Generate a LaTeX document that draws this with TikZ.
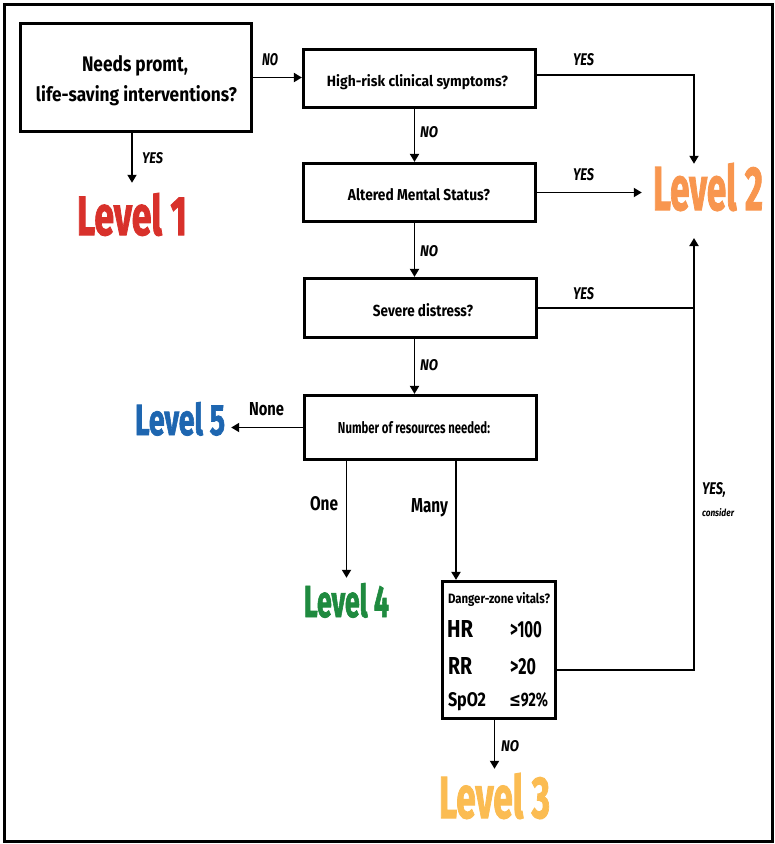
\documentclass[tikz,border=0pt]{standalone}
\usepackage{fontspec}
\setmainfont{Fira Sans}
\newfontfamily\symfont{DejaVu Sans}
\newfontfamily\heavy{Fira Sans}[BoldFeatures={FakeBold=2}]
\usetikzlibrary{arrows.meta,calc}
\newcommand\fitt[3]{\resizebox{#1pt}{#2pt}{#3}}
\definecolor{lvone}{HTML}{D8312B}
\definecolor{lvtwo}{HTML}{F8964F}
\definecolor{lvthree}{HTML}{FBBC52}
\definecolor{lvfour}{HTML}{1F8A3F}
\definecolor{lvfive}{HTML}{1E66B0}
\begin{document}
\begin{tikzpicture}[x=1pt,y=-1pt,
  box/.style={draw, line width=3.2pt, inner sep=0pt},
  lbl/.style={inner sep=0pt, anchor=base, font=\bfseries},
  ilbl/.style={inner sep=0pt, anchor=base, font=\bfseries\itshape},
  lvl/.style={inner sep=0pt, anchor=base, font=\heavy\bfseries},
  conn/.style={line width=1.8pt, -{Triangle[length=8pt,width=9pt]}},
  plain/.style={line width=1.8pt}]
\useasboundingbox (0,0) rectangle (775,844);
\draw[line width=3pt] (4,4) rectangle (772,841);

% boxes
\node[box, minimum width=231pt, minimum height=108pt] (b1) at (136,77.5) {};
\node[box, minimum width=232pt, minimum height=58pt] (b2) at (419.5,78.5) {};
\node[box, minimum width=232pt, minimum height=58pt] (b3) at (419.5,192.5) {};
\node[box, minimum width=232pt, minimum height=59pt] (b4) at (420.5,308) {};
\node[box, minimum width=232pt, minimum height=64pt] (b5) at (420.5,427.5) {};
\node[box, minimum width=113pt, minimum height=137pt] (b6) at (499,650) {};

% box texts
\node[lbl] (t1a) at (135,71) {\fitt{106}{16}{Needs promt,}};
\node[lbl] (t1b) at (136.5,101) {\fitt{201}{16}{life-saving interventions?}};
\node[lbl] (t2) at (417.5,86) {\fitt{181}{12}{High-risk clinical symptoms?}};
\node[lbl] (t3) at (419,200) {\fitt{142}{12}{Altered Mental Status?}};
\node[lbl] (t4) at (423,316) {\fitt{100}{13}{Severe distress?}};
\node[lbl] (t5) at (414,433) {\fitt{152}{12}{Number of resources needed:}};
\node[lbl] (t6) at (499,603) {\fitt{102}{11}{Danger-zone vitals?}};
\node[lbl] (hr) at (460,637) {\fitt{26}{17}{HR}};
\node[lbl] (hrv) at (526,637) {\fitt{32}{16}{>100}};
\node[lbl] (rr) at (460,674) {\fitt{24}{17}{RR}};
\node[lbl] (rrv) at (523,674) {\fitt{26}{16}{>20}};
\node[lbl] (sp) at (467,706) {\fitt{38}{14}{SpO2}};
\node[lbl] (spv) at (528.5,706) {\fitt{39}{14}{{\symfont\bfseries ≤}92\%}};

% levels
\node[lvl, text=lvone] (L1) at (132,235) {\fitt{110}{42}{Level 1}};
\node[lvl, text=lvtwo] (L2) at (708,210) {\fitt{110}{47}{Level 2}};
\node[lvl, text=lvthree] (L3) at (494.5,818) {\fitt{111}{45}{Level 3}};
\node[lvl, text=lvfour] (L4) at (346.5,617) {\fitt{85}{34}{Level 4}};
\node[lvl, text=lvfive] (L5) at (180,435) {\fitt{90}{33}{Level 5}};

% connector labels
\node[ilbl] (n1) at (270,65) {\fitt{16}{12}{NO}};
\node[ilbl] (y1) at (152.5,163) {\fitt{21}{11}{YES}};
\node[ilbl] (y2) at (583.5,65) {\fitt{21}{12}{YES}};
\node[ilbl] (n2) at (429,137) {\fitt{18}{11}{NO}};
\node[ilbl] (y3) at (583.5,180) {\fitt{21}{12}{YES}};
\node[ilbl] (n3) at (429,256) {\fitt{18}{11}{NO}};
\node[ilbl] (y4) at (583.5,299) {\fitt{21}{12}{YES}};
\node[ilbl] (n4) at (429,370) {\fitt{18}{11}{NO}};
\node[lbl] (none) at (266.5,415) {\fitt{35}{13}{None}};
\node[lbl] (one) at (324,510) {\fitt{28}{14}{One}};
\node[lbl] (many) at (429.5,512) {\fitt{37}{14}{Many}};
\node[ilbl] (yc) at (714,494) {\fitt{24}{12}{YES,}};
\node[ilbl] (cons) at (718,516) {\fitt{32}{8}{consider}};
\node[ilbl] (n6) at (510,751) {\fitt{18}{11}{NO}};

% coordinates
\coordinate (c2) at (694,75);
\coordinate (c6) at (694,670);
\coordinate (up) at (694,238);
\coordinate (mx) at (456,461);

% connectors
\draw[conn] (b1.east) -- (b1.east -| b2.west);
\draw[conn, shorten >=10pt] (b1.south -| L1) -- (L1.north);
\draw[conn, shorten >=-1pt] (b2.east |- c2) -- (c2) -- (c2 |- L2.north);
\draw[conn] ($(b2.south)+(-5,0)$) -- ($(b3.north)+(-5,0)$);
\draw[conn, shorten >=11pt] (b3.east) -- (b3.east -| L2.west);
\draw[conn] ($(b3.south)+(-5,0)$) -- ($(b4.north)+(-6,0)$);
\draw[plain] (b4.east) -- (b4.east -| c6);
\draw[conn] (b6.east |- c6) -- (c6) -- (up);
\draw[conn] ($(b4.south)+(-6,0)$) -- ($(b5.north)+(-6,0)$);
\draw[conn, shorten >=6pt] (b5.west) -- (b5.west -| L5.east);
\draw[conn, shorten >=5pt] (b5.south -| L4) -- (L4.north);
\draw[conn] (mx) -- (mx |- b6.north);
\draw[conn, shorten >=4pt] (b6.south -| L3) -- (L3.north);
\end{tikzpicture}
\end{document}
